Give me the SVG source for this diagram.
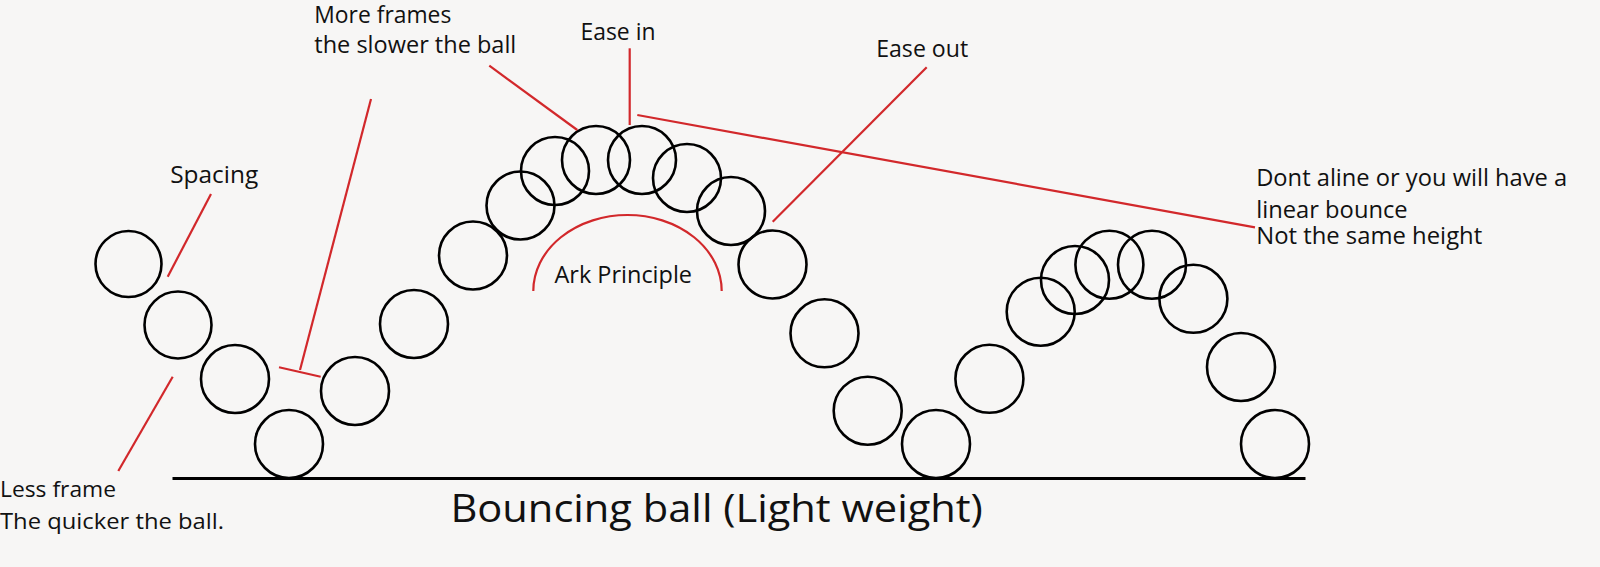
<svg xmlns="http://www.w3.org/2000/svg" width="1600" height="567" viewBox="0 0 1600 567">
<style>
.ball{fill:none;stroke:#000;stroke-width:2.6}
.red{fill:none;stroke:#d2282b;stroke-width:2.2;stroke-linecap:butt}
.t{font-family:"Open Sans","Liberation Sans",sans-serif;font-size:23px;fill:#111}
.s{font-family:"Open Sans","Liberation Sans",sans-serif;font-size:21px;fill:#111}
.big{font-family:"Open Sans","Liberation Sans",sans-serif;font-size:39px;fill:#111}
</style>
<rect width="1600" height="567" fill="#f7f6f5"/>
<g id="balls">
<circle class="ball" cx="128.5" cy="264" r="33"/>
<circle class="ball" cx="178" cy="325" r="33.5"/>
<circle class="ball" cx="235" cy="379" r="34"/>
<circle class="ball" cx="289" cy="444" r="34"/>
<circle class="ball" cx="355" cy="391" r="34"/>
<circle class="ball" cx="414" cy="324" r="34"/>
<circle class="ball" cx="473" cy="255.5" r="34"/>
<circle class="ball" cx="520.5" cy="205.5" r="34"/>
<circle class="ball" cx="555" cy="171" r="34"/>
<circle class="ball" cx="596" cy="160" r="34"/>
<circle class="ball" cx="642" cy="160" r="34"/>
<circle class="ball" cx="687" cy="178" r="34"/>
<circle class="ball" cx="731" cy="211" r="34"/>
<circle class="ball" cx="772.5" cy="264.5" r="34"/>
<circle class="ball" cx="824.5" cy="333.3" r="34"/>
<circle class="ball" cx="867.7" cy="410.7" r="34"/>
<circle class="ball" cx="936" cy="444" r="34"/>
<circle class="ball" cx="989.4" cy="378.8" r="34"/>
<circle class="ball" cx="1040.7" cy="311.7" r="34"/>
<circle class="ball" cx="1075" cy="280" r="34"/>
<circle class="ball" cx="1109.4" cy="264.7" r="34"/>
<circle class="ball" cx="1152" cy="264.7" r="34"/>
<circle class="ball" cx="1193.4" cy="298.8" r="34"/>
<circle class="ball" cx="1241" cy="367" r="34"/>
<circle class="ball" cx="1275" cy="444" r="34"/>
</g>
<g id="ground">
<line x1="172.5" y1="478.5" x2="1305.5" y2="478.5" stroke="#000" stroke-width="3"/>
</g>
<g id="connectors">
<line class="red" x1="211" y1="194" x2="167.7" y2="276.7"/>
<line class="red" x1="172.7" y1="376.7" x2="118.3" y2="471"/>
<line class="red" x1="371" y1="99" x2="300" y2="370"/>
<line class="red" x1="279" y1="367.3" x2="320.7" y2="376.7" stroke-width="2.6"/>
<line class="red" x1="489.3" y1="65.7" x2="577.3" y2="130"/>
<line class="red" x1="629.7" y1="48.3" x2="629.7" y2="125"/>
<line class="red" x1="637.3" y1="115" x2="1255" y2="227.3"/>
<line class="red" x1="926.7" y1="67.3" x2="772.7" y2="221.7"/>
<path class="red" d="M533.3,291 A94.2,76 0 0 1 721.7,291"/>
</g>
<g id="labels">
<text class="t" x="314.3" y="22.7" textLength="137" lengthAdjust="spacingAndGlyphs">More frames</text>
<text class="t" x="314.3" y="53.3" textLength="202" lengthAdjust="spacingAndGlyphs">the slower the ball</text>
<text class="t" x="580.5" y="40" textLength="75" lengthAdjust="spacingAndGlyphs">Ease in</text>
<text class="t" x="876.2" y="57.3" textLength="92" lengthAdjust="spacingAndGlyphs">Ease out</text>
<text class="t" x="170.2" y="183.3" textLength="88" lengthAdjust="spacingAndGlyphs">Spacing</text>
<text class="t" x="554.5" y="283.3" textLength="137.5" lengthAdjust="spacingAndGlyphs">Ark Principle</text>
<text class="t" x="1256.2" y="186" textLength="311" lengthAdjust="spacingAndGlyphs">Dont aline or you will have a</text>
<text class="t" x="1256.2" y="218.3" textLength="151.5" lengthAdjust="spacingAndGlyphs">linear bounce</text>
<text class="t" x="1256.2" y="244.3" textLength="226" lengthAdjust="spacingAndGlyphs">Not the same height</text>
<text class="s" x="0" y="496.7" textLength="116" lengthAdjust="spacingAndGlyphs">Less frame</text>
<text class="s" x="0" y="529.3" textLength="224" lengthAdjust="spacingAndGlyphs">The quicker the ball.</text>
<text class="big" x="450.4" y="521.7" textLength="532.5" lengthAdjust="spacingAndGlyphs">Bouncing ball (Light weight)</text>
</g>
</svg>
